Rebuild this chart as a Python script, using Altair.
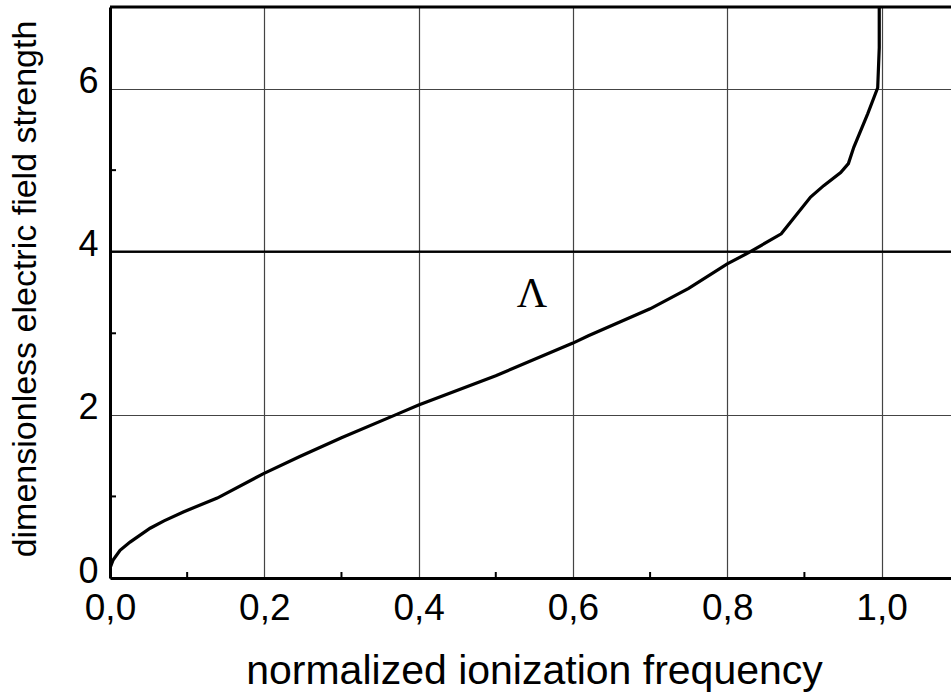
import altair as alt
import pandas as pd

# Curve: normalized ionization frequency vs. dimensionless electric field strength
freq = [0.0, 0.004, 0.013, 0.026, 0.052, 0.07, 0.095, 0.139, 0.199, 0.246,
        0.3, 0.37, 0.4, 0.5, 0.6, 0.62, 0.7, 0.75, 0.8, 0.83, 0.87,
        0.908, 0.925, 0.947, 0.957, 0.964, 0.982, 0.995, 0.997, 0.997]
field = [0.12, 0.22, 0.34, 0.44, 0.61, 0.70, 0.81, 0.98, 1.28, 1.49,
         1.72, 2.0, 2.12, 2.48, 2.88, 2.97, 3.3, 3.55, 3.85, 4.0, 4.22,
         4.67, 4.81, 4.97, 5.08, 5.28, 5.69, 6.01, 6.5, 7.0]

x_ticks = [0.0, 0.2, 0.4, 0.6, 0.8, 1.0]
y_ticks = [0, 2, 4, 6]
x_minor = [0.1, 0.3, 0.5, 0.7, 0.9]
y_minor = [1, 3, 5]

X_MAX, Y_MAX = 1.09, 7.0
W, H = 841, 571
FONT = "Liberation Sans"

curve = pd.DataFrame({"f": freq, "e": field, "i": range(len(freq))})

xs = alt.Scale(domain=[0, X_MAX], nice=False, zero=False)
ys = alt.Scale(domain=[0, Y_MAX], nice=False, zero=False)

x_axis = alt.Axis(
    values=x_ticks, format=".1f", labelExpr="replace(datum.label, '.', ',')",
    grid=True, gridColor="#444", gridWidth=1.2, ticks=False,
    domainColor="black", domainWidth=3, labelFont=FONT, labelFontSize=37,
    labelColor="black", labelPadding=12, labelFlush=False,
    title="normalized ionization frequency", titleFont=FONT, titleFontSize=41,
    titleFontWeight="normal", titleColor="black", titleX=424, titleY=105,
    titleAlign="center", titleBaseline="alphabetic",
)
y_axis = alt.Axis(
    values=y_ticks, format="d", grid=True, gridColor="#444", gridWidth=1.2, ticks=False,
    domainColor="black", domainWidth=3, labelFont=FONT, labelFontSize=36,
    labelColor="black", labelPadding=12, labelFlush=False, labelOffset=-7,
    title="dimensionless electric field strength", titleFont=FONT,
    titleFontSize=34, titleFontWeight="normal", titleColor="black",
    titleX=-85, titleY=H / 2 - 4, titleAngle=270, titleAlign="center",
    titleBaseline="middle",
)

line = alt.Chart(curve).mark_line(color="black", strokeWidth=3.2, clip=True).encode(
    x=alt.X("f:Q", scale=xs, axis=x_axis),
    y=alt.Y("e:Q", scale=ys, axis=y_axis),
    order="i:Q",
)

# heavier horizontal line at E = 4 and the top frame line
hlines = alt.Chart(pd.DataFrame({"e": [4.0]})).mark_rule(color="black", strokeWidth=2.2).encode(
    y=alt.Y("e:Q", scale=ys)
)
top = alt.Chart(pd.DataFrame({"e": [Y_MAX]})).mark_rule(color="black", strokeWidth=3).encode(
    y=alt.Y("e:Q", scale=ys)
)

# small inward minor ticks on both axes
xminor = alt.Chart(pd.DataFrame({"f": x_minor})).mark_rule(color="black", strokeWidth=2).encode(
    x=alt.X("f:Q", scale=xs), y=alt.value(H), y2=alt.value(H - 6)
)
yminor = alt.Chart(pd.DataFrame({"e": y_minor})).mark_rule(color="black", strokeWidth=2).encode(
    y=alt.Y("e:Q", scale=ys), x=alt.value(0), x2=alt.value(6)
)

label = alt.Chart(pd.DataFrame({"f": [0.547], "e": [3.32], "t": ["Λ"]})).mark_text(
    font="Liberation Serif", fontSize=42, color="black", baseline="alphabetic", align="center"
).encode(x=alt.X("f:Q", scale=xs), y=alt.Y("e:Q", scale=ys), text="t:N")

chart = alt.layer(line, hlines, top, xminor, yminor, label).properties(
    width=W, height=H,
    autosize=alt.AutoSizeParams(type="none"),
    padding={"left": 110, "top": 7, "right": 0, "bottom": 119},
).configure_view(strokeWidth=0).configure(background="white")

chart.save("out.html", embed_options={"renderer": "svg", "actions": False})
